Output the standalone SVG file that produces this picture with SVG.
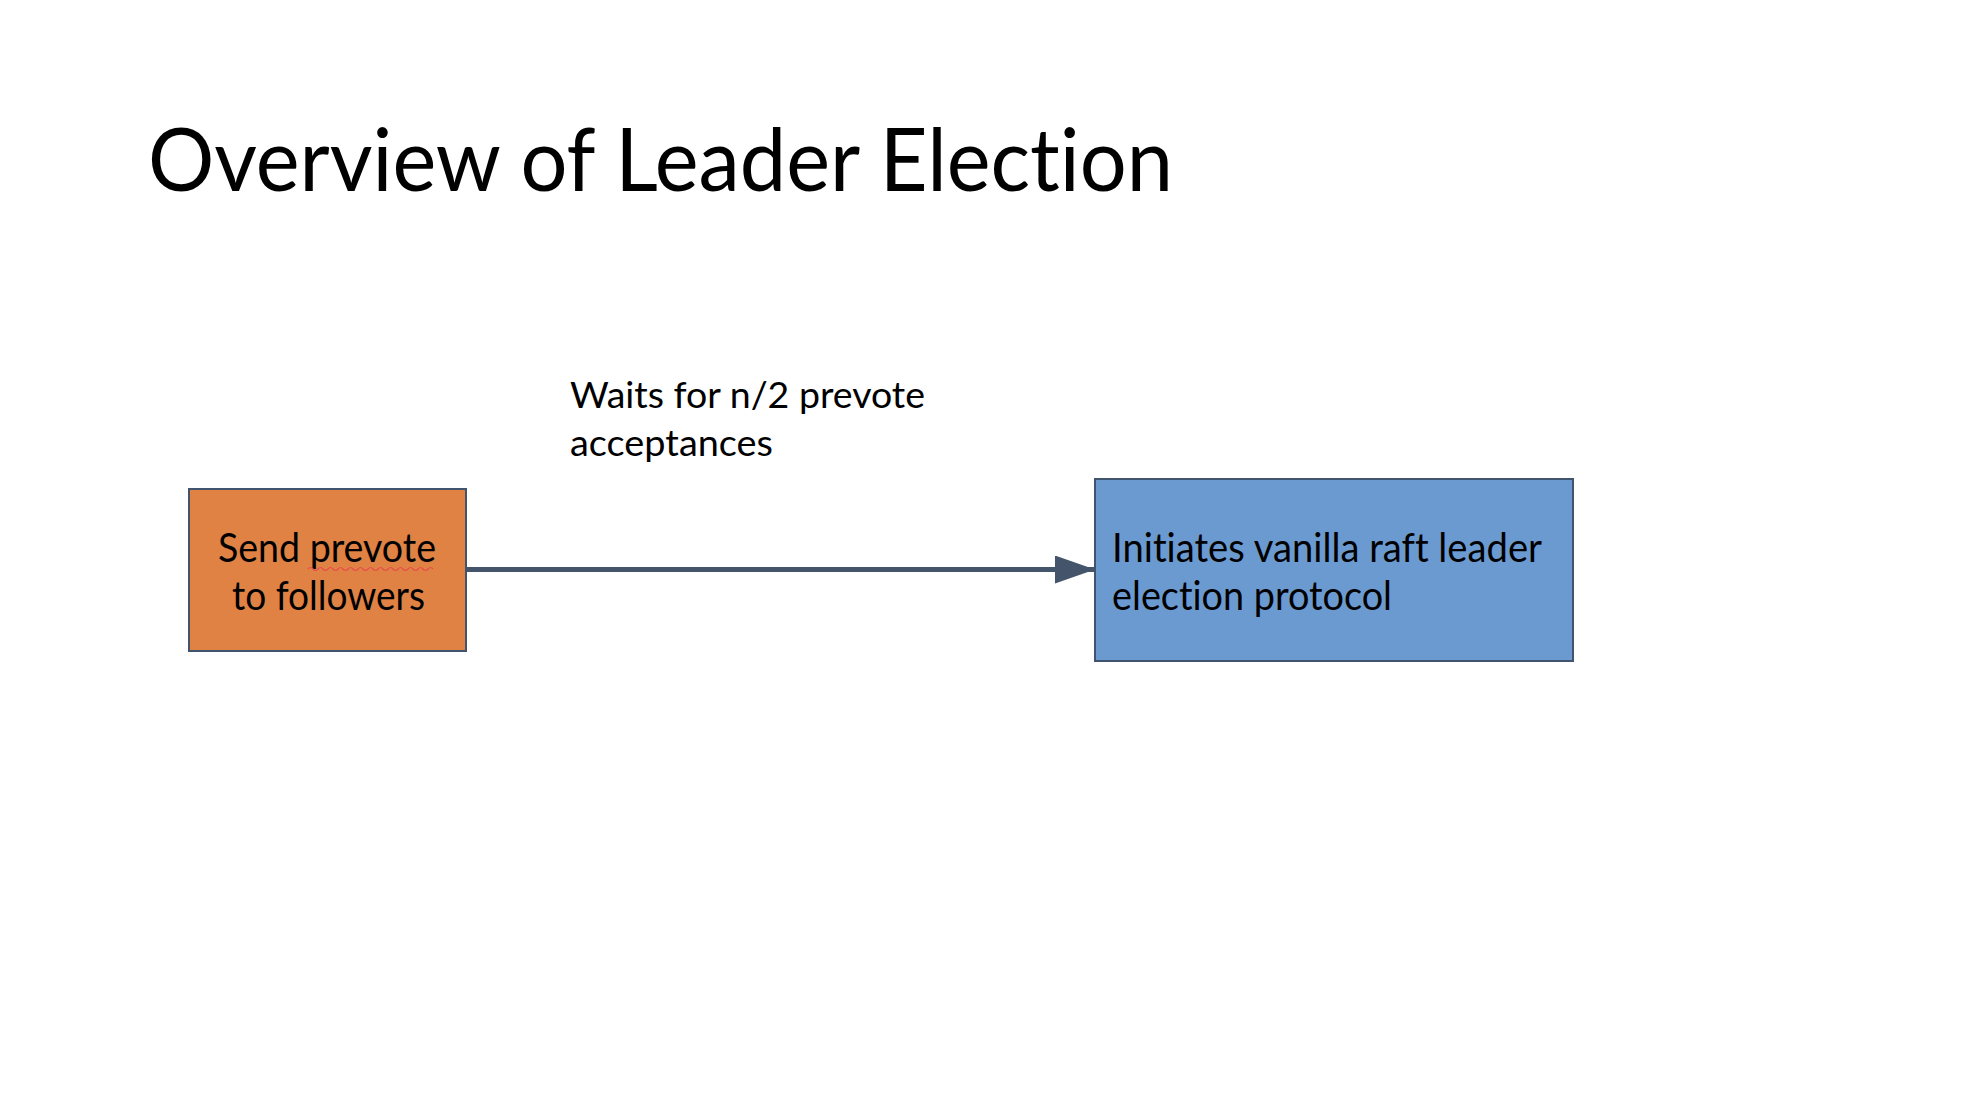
<svg xmlns="http://www.w3.org/2000/svg" width="1968" height="1102" viewBox="0 0 1968 1102">
<style>
.t{font-family:Lato,"Open Sans","Liberation Sans",sans-serif;fill:#000;font-variant-ligatures:none;font-feature-settings:"liga" 0}
.title{font-size:88px;font-weight:400}
.box{font-size:41px}
.lbl{font-size:37px}
.node{stroke:#42546d;stroke-width:2}
</style>
<defs>
<marker id="ah" markerUnits="userSpaceOnUse" markerWidth="40" markerHeight="28" refX="40" refY="14" orient="auto">
<path d="M0,0 L40,14 L0,28 Z" fill="#44546a"/>
</marker>
</defs>
<rect width="1968" height="1102" fill="#fff"/>
<text class="t title" x="148" y="191" textLength="1025" lengthAdjust="spacingAndGlyphs">Overview of Leader Election</text>
<g id="connectors">
<line x1="466" y1="569.5" x2="1095" y2="569.5" stroke="#44546a" stroke-width="5" marker-end="url(#ah)"/>
<g id="label">
<text class="t lbl" x="570" y="408" textLength="355" lengthAdjust="spacingAndGlyphs">Waits for n/2 prevote</text>
<text class="t lbl" x="570" y="456" textLength="203" lengthAdjust="spacingAndGlyphs">acceptances</text>
</g>
</g>
<g id="node-prevote">
<rect class="node" x="189" y="489" width="277" height="162" fill="#df8244"/>
<text class="t box" x="218" y="562" textLength="218" lengthAdjust="spacingAndGlyphs">Send prevote</text>
<path d="M308,569 q2.5,-3 5,0 t5,0 t5,0 t5,0 t5,0 t5,0 t5,0 t5,0 t5,0 t5,0 t5,0 t5,0 t5,0 t5,0 t5,0 t5,0 t5,0 t5,0 t5,0 t5,0 t5,0 t5,0 t5,0 t5,0 t5,0" fill="none" stroke="#e84b4b" stroke-width="1.2"/>
<text class="t box" x="232" y="610" textLength="193" lengthAdjust="spacingAndGlyphs">to followers</text>
</g>
<g id="node-initiate">
<rect class="node" x="1095" y="479" width="478" height="182" fill="#6a9ad0"/>
<text class="t box" x="1112" y="562" textLength="430" lengthAdjust="spacingAndGlyphs">Initiates vanilla raft leader</text>
<text class="t box" x="1112" y="610" textLength="280" lengthAdjust="spacingAndGlyphs">election protocol</text>
</g>
</svg>
